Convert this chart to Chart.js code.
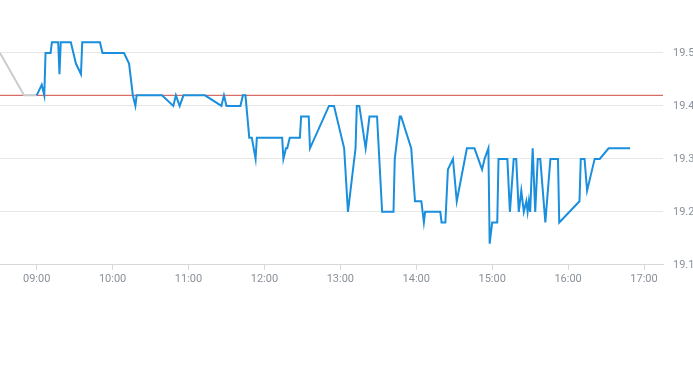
<!DOCTYPE html>
<html>
<head>
<meta charset="utf-8">
<script src="https://cdn.jsdelivr.net/npm/chart.js@4.4.1/dist/chart.umd.min.js"></script>
<style>
  html, body { margin: 0; padding: 0; background: #fff; }
  #wrap { width: 693px; height: 365px; }
</style>
</head>
<body>
<div id="wrap"><canvas id="priceChart"></canvas></div>
<script>
// intraday trades
const times = [
  '09:00', '09:04', '09:06', '09:07', '09:11', '09:12', '09:17', '09:18', '09:19', '09:27',
  '09:29', '09:31', '09:35', '09:36', '09:50', '09:52', '10:09', '10:13', '10:16', '10:18',
  '10:19', '10:39', '10:48', '10:50', '10:53', '10:56', '11:13', '11:26', '11:28', '11:30',
  '11:41', '11:43', '11:45', '11:48', '11:50', '11:53', '11:54', '12:14', '12:15', '12:17',
  '12:18', '12:20', '12:28', '12:29', '12:35', '12:36', '12:51', '12:55', '13:03', '13:06',
  '13:12', '13:13', '13:15', '13:20', '13:23', '13:29', '13:33', '13:42', '13:43', '13:47',
  '13:48', '13:56', '13:59', '14:04', '14:06', '14:07', '14:19', '14:20', '14:23', '14:25',
  '14:29', '14:32', '14:40', '14:46', '14:52', '14:54', '14:57', '14:58', '15:00', '15:04',
  '15:05', '15:12', '15:14', '15:17', '15:19', '15:21', '15:23', '15:25', '15:27', '15:28',
  '15:29', '15:30', '15:32', '15:34', '15:36', '15:38', '15:42', '15:46', '15:52', '15:53',
  '16:09', '16:10', '16:13', '16:15', '16:21', '16:25', '16:32', '16:49'
];
const prices = [
  19.42, 19.44, 19.42, 19.50, 19.50, 19.52, 19.52, 19.46, 19.52, 19.52,
  19.50, 19.48, 19.46, 19.52, 19.52, 19.50, 19.50, 19.48, 19.42, 19.40,
  19.42, 19.42, 19.40, 19.42, 19.40, 19.42, 19.42, 19.40, 19.42, 19.40,
  19.40, 19.42, 19.42, 19.34, 19.34, 19.30, 19.34, 19.34, 19.30, 19.32,
  19.32, 19.34, 19.34, 19.38, 19.38, 19.32, 19.40, 19.40, 19.32, 19.20,
  19.32, 19.40, 19.40, 19.32, 19.38, 19.38, 19.20, 19.20, 19.30, 19.38,
  19.38, 19.32, 19.22, 19.22, 19.18, 19.20, 19.20, 19.18, 19.18, 19.28,
  19.30, 19.22, 19.32, 19.32, 19.28, 19.30, 19.32, 19.14, 19.18, 19.18,
  19.30, 19.30, 19.20, 19.30, 19.30, 19.20, 19.24, 19.20, 19.22, 19.20,
  19.22, 19.20, 19.32, 19.20, 19.30, 19.30, 19.18, 19.30, 19.30, 19.18,
  19.22, 19.30, 19.30, 19.24, 19.30, 19.30, 19.32, 19.32
];

// pre-open
const preTimes = ['08:31', '08:50', '09:00'];
const prePrices = [19.50, 19.42, 19.42];

const prevClose = 19.42;
const yTicks = [19.1, 19.2, 19.3, 19.4, 19.5];
const xTicks = ['09:00', '10:00', '11:00', '12:00', '13:00', '14:00', '15:00', '16:00', '17:00'];
const xRange = ['08:31', '17:15'];

const toMin = s => {
  const [h, m] = s.split(':').map(Number);
  return h * 60 + m;
};
const fmtTime = v => {
  const h = Math.floor(v / 60), m = Math.round(v % 60);
  return String(h).padStart(2, '0') + ':' + String(m).padStart(2, '0');
};

const xMin = toMin(xRange[0]), xMax = toMin(xRange[1]);
const labelColor = '#8a9199';
const tickFont = { family: 'Roboto', size: 11 };

const priceChart = document.getElementById('priceChart');
if (priceChart) {
  new Chart(priceChart, {
    type: 'line',
    data: {
      datasets: [
        {
          data: times.map((t, i) => ({ x: toMin(t), y: prices[i] })),
          borderColor: '#1a8fdd',
          borderWidth: 2,
          pointRadius: 0,
          order: 0
        },
        {
          data: preTimes.map((t, i) => ({ x: toMin(t), y: prePrices[i] })),
          borderColor: '#c9cccf',
          borderWidth: 2,
          pointRadius: 0,
          order: 1
        },
        {
          data: [{ x: xMin, y: prevClose }, { x: xMax, y: prevClose }],
          borderColor: '#d04a42',
          borderWidth: 1,
          pointRadius: 0,
          order: 2
        }
      ]
    },
    options: {
      responsive: true,
      maintainAspectRatio: false,
      animation: false,
      layout: {
        padding: { top: 0, bottom: 76, left: 0, right: 0 }
      },
      plugins: {
        legend: { display: false },
        tooltip: { enabled: false }
      },
      scales: {
        x: {
          type: 'linear',
          min: xMin,
          max: xMax,
          grid: {
            drawOnChartArea: false,
            drawTicks: true,
            tickLength: 5,
            color: '#d6d9dc'
          },
          border: { color: '#d6d9dc' },
          ticks: {
            color: labelColor,
            font: tickFont,
            padding: 3,
            autoSkip: false,
            maxRotation: 0,
            callback: v => fmtTime(v)
          },
          afterBuildTicks: s => {
            s.ticks = xTicks.map(t => ({ value: toMin(t) }));
          },
          afterFit: s => {
            s.paddingLeft = 0;
            s.paddingRight = 0;
          }
        },
        y: {
          position: 'right',
          min: 19.1,
          max: 19.6,
          grid: {
            color: '#e6e6e6',
            drawTicks: false
          },
          border: { display: false },
          ticks: {
            color: labelColor,
            font: tickFont,
            padding: 10,
            callback: v => v.toFixed(1)
          },
          afterBuildTicks: s => {
            s.ticks = yTicks.map(v => ({ value: v }));
          },
          afterFit: s => {
            s.width = 30;
            s.paddingTop = 0;
            s.paddingBottom = 0;
          }
        }
      }
    }
  });
}
</script>
</body>
</html>
